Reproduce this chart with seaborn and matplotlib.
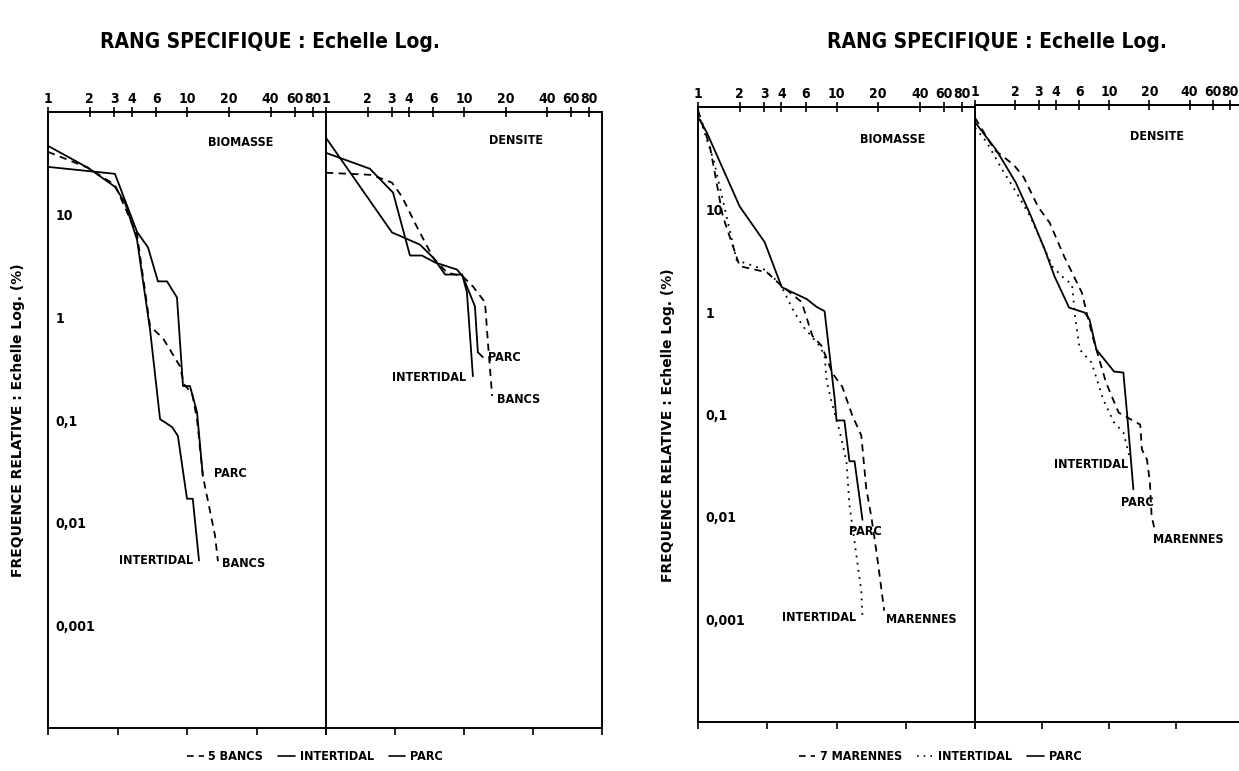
import matplotlib
matplotlib.use("Agg")
import matplotlib.pyplot as plt
from matplotlib.lines import Line2D
from matplotlib.ticker import FixedLocator, FixedFormatter, NullFormatter
import numpy as np
import pandas as pd
import seaborn as sns

# ---------------------------------------------------------------------------
# Values (rank -> relative frequency in %)
# ---------------------------------------------------------------------------

# Left figure, BIOMASSE
B1_PARC_R = [1.0, 3.03, 4.37, 5.24, 6.18, 7.18, 8.47, 9.36, 10.5, 11.8, 13.0]
B1_PARC_F = [29.2, 25.0, 6.8, 4.8, 2.24, 2.24, 1.56, 0.214, 0.214, 0.12, 0.0286]
B1_INTER_R = [1.0, 1.94, 3.03, 3.58, 4.37, 5.42, 6.4, 7.8, 8.6, 10.0, 11.0, 12.2]
B1_INTER_F = [46.8, 28.6, 18.7, 13.1, 5.7, 0.76, 0.102, 0.0855, 0.070, 0.0171, 0.0171, 0.00428]
B1_BANCS_R = [1.0, 1.94, 3.03, 4.37, 5.42, 6.72, 8.9, 9.5, 10.9, 11.8, 13.0, 15.9, 16.7]
B1_BANCS_F = [40.9, 28.6, 19.5, 6.4, 0.82, 0.625, 0.334, 0.224, 0.179, 0.102, 0.0286, 0.0075, 0.0042]

# Left figure, DENSITE
D1_PARC_R = [1.0, 2.08, 3.06, 4.06, 4.96, 6.17, 8.9, 9.8, 12.0, 12.6, 13.7]
D1_PARC_F = [40.0, 28.0, 16.4, 4.0, 4.0, 3.42, 2.92, 2.5, 1.28, 0.457, 0.41]
D1_INTER_R = [1.0, 3.01, 3.55, 4.8, 5.96, 7.3, 9.7, 10.5, 11.6]
D1_INTER_F = [56.0, 6.7, 6.1, 5.1, 3.83, 2.61, 2.61, 1.75, 0.267]
D1_BANCS_R = [1.0, 2.15, 3.01, 3.55, 4.56, 5.96, 7.5, 9.8, 11.6, 14.2, 14.9, 16.0]
D1_BANCS_F = [25.6, 24.4, 20.5, 15.0, 7.6, 3.83, 2.74, 2.5, 2.0, 1.40, 0.57, 0.171]

# Right figure, BIOMASSE
B2_PARC_R = [1.0, 1.16, 2.0, 3.03, 4.02, 4.59, 6.08, 7.2, 8.2, 9.7, 10.0, 11.4, 12.4, 13.5, 15.4]
B2_PARC_F = [80.0, 56.0, 10.7, 4.8, 1.75, 1.60, 1.34, 1.12, 1.02, 0.143, 0.0875, 0.0875, 0.035, 0.035, 0.0094]
B2_INTER_R = [1.0, 1.3, 1.9, 3.0, 3.9, 4.82, 5.7, 7.55, 8.2, 8.5, 9.2, 10.5, 11.8, 12.4, 13.9, 15.1, 15.4]
B2_INTER_F = [88.0, 30.0, 3.2, 2.6, 1.9, 1.07, 0.73, 0.468, 0.374, 0.209, 0.134, 0.070, 0.035, 0.0131, 0.0043, 0.0019, 0.00105]
B2_MAR_R = [1.0, 1.22, 1.51, 2.0, 3.14, 3.89, 5.6, 6.7, 7.8, 9.4, 11.0, 13.0, 15.1, 16.4, 17.9, 19.7, 22.1]
B2_MAR_F = [93.0, 41.0, 8.6, 2.8, 2.44, 1.87, 1.25, 0.585, 0.468, 0.25, 0.187, 0.098, 0.0625, 0.019, 0.0098, 0.004, 0.00122]

# Right figure, DENSITE
D2_PARC_R = [1.0, 1.44, 2.02, 2.59, 3.32, 3.93, 5.04, 6.59, 7.16, 8.05, 9.5, 10.9, 12.8, 13.7, 15.2]
D2_PARC_F = [68.0, 36.6, 17.5, 8.55, 3.91, 2.14, 1.07, 0.957, 0.818, 0.418, 0.32, 0.256, 0.25, 0.0935, 0.0183]
D2_INTER_R = [1.0, 1.22, 1.60, 1.88, 2.19, 2.59, 3.32, 3.80, 4.49, 5.3, 5.58, 6.06, 7.41, 9.05, 10.9, 12.8, 14.4]
D2_INTER_F = [60.0, 43.7, 23.4, 16.7, 12.0, 8.2, 3.91, 2.67, 2.14, 1.79, 0.875, 0.418, 0.313, 0.137, 0.0818, 0.0655, 0.0357]
D2_MAR_R = [1.0, 1.40, 1.95, 2.30, 2.96, 3.61, 4.64, 6.27, 6.81, 7.66, 9.5, 11.8, 17.1, 17.6, 19.2, 20.2, 20.8, 21.9]
D2_MAR_F = [75.0, 36.6, 26.1, 20.0, 10.2, 7.15, 3.34, 1.50, 0.957, 0.523, 0.2, 0.102, 0.078, 0.0447, 0.0357, 0.0214, 0.01, 0.0075]

TOP_TICKS = [1, 2, 3, 4, 6, 10, 20, 40, 60, 80]
Y_TICKS = [10, 1, 0.1, 0.01, 0.001]
Y_LABELS_1 = ["10", "1", "0,1", "0,01", "0,001"]
Y_LABELS_2 = ["10", "1", "0,1", "0,01", "0,001"]

TITLE = "RANG SPECIFIQUE : Echelle Log."
YLABEL = "FREQUENCE RELATIVE : Echelle Log. (%)"

COND = ["DejaVu Sans", "Liberation Sans"]
W, H = 1239, 771


# ---------------------------------------------------------------------------
# helpers
# ---------------------------------------------------------------------------

def draw_curves(ax, curves, dashes):
    frames = []
    for name, (r, f) in curves.items():
        frames.append(pd.DataFrame({"rang": r, "freq": f, "serie": name}))
    df = pd.concat(frames, ignore_index=True)
    sns.lineplot(data=df, x="rang", y="freq", hue="serie", style="serie",
                 palette={k: "black" for k in curves}, dashes=dashes,
                 sort=False, estimator=None, legend=False, ax=ax, linewidth=1.3)


def cond(lab):
    lab.set_family(COND)
    lab.set_weight("bold")
    lab.set_stretch("condensed")


def style_axis(ax, ylabels=None, right_spine=False):
    ax.set_xscale("log")
    ax.set_yscale("log")
    ax.set_xlim(1, 100)
    ax.set_ylim(1e-4, 100)
    ax.set_xlabel("")
    ax.set_ylabel("")
    ax.spines["right"].set_visible(right_spine)
    for s in ax.spines.values():
        s.set_linewidth(1.4)
        s.set_color("black")

    # rank ticks on the top spine, half-decade marks on the bottom spine
    ax.xaxis.set_major_locator(FixedLocator(TOP_TICKS))
    ax.xaxis.set_major_formatter(FixedFormatter([str(t) for t in TOP_TICKS]))
    ax.xaxis.set_minor_locator(FixedLocator([10 ** e for e in (0, 0.5, 1, 1.5, 2)]))
    ax.xaxis.set_minor_formatter(NullFormatter())
    ax.xaxis.remove_overlapping_locs = False
    ax.tick_params(axis="x", which="major", top=True, bottom=False,
                   labeltop=True, labelbottom=False, direction="inout",
                   length=7, width=1.2, pad=1, labelsize=10, colors="black")
    ax.tick_params(axis="x", which="minor", top=False, bottom=True,
                   direction="out", length=5, width=1.2, colors="black")
    for lab in ax.get_xticklabels():
        cond(lab)

    ax.yaxis.set_major_locator(FixedLocator(Y_TICKS))
    ax.yaxis.set_minor_locator(FixedLocator([]))
    if ylabels is None:
        ax.yaxis.set_major_formatter(NullFormatter())
        ax.tick_params(axis="y", which="major", direction="in", length=4,
                       width=1.4, colors="black")
    else:
        ax.yaxis.set_major_formatter(FixedFormatter(ylabels))
        ax.tick_params(axis="y", which="major", direction="inout", length=7,
                       width=1.2, pad=-9, labelsize=10, colors="black")
        for lab in ax.get_yticklabels():
            lab.set_ha("left")
            cond(lab)


def put(ax, x, y, s, ha="left", size=9):
    ax.text(x, y, s, ha=ha, va="center", fontsize=size, fontweight="bold",
            family=COND, fontstretch="condensed", color="black")


# ---------------------------------------------------------------------------
# figure
# ---------------------------------------------------------------------------

sns.set_style("white")
plt.rcParams["font.family"] = COND
plt.rcParams["text.color"] = "black"

fig = plt.figure(figsize=(W / 100, H / 100), dpi=100)

ax_b1 = fig.add_axes([48 / W, 1 - 728 / H, 278 / W, 616 / H])
ax_d1 = fig.add_axes([326 / W, 1 - 728 / H, 276 / W, 616 / H])
ax_b2 = fig.add_axes([698 / W, 1 - 722 / H, 277 / W, 615 / H])
ax_d2 = fig.add_axes([975 / W, 1 - 722 / H, 268 / W, 617 / H])

solid, dash, dot = "", (4, 3), (1, 3)

draw_curves(ax_b1, {"BANCS": (B1_BANCS_R, B1_BANCS_F),
                    "INTERTIDAL": (B1_INTER_R, B1_INTER_F),
                    "PARC": (B1_PARC_R, B1_PARC_F)},
            {"BANCS": dash, "INTERTIDAL": solid, "PARC": solid})
draw_curves(ax_d1, {"BANCS": (D1_BANCS_R, D1_BANCS_F),
                    "INTERTIDAL": (D1_INTER_R, D1_INTER_F),
                    "PARC": (D1_PARC_R, D1_PARC_F)},
            {"BANCS": dash, "INTERTIDAL": solid, "PARC": solid})
draw_curves(ax_b2, {"MARENNES": (B2_MAR_R, B2_MAR_F),
                    "INTERTIDAL": (B2_INTER_R, B2_INTER_F),
                    "PARC": (B2_PARC_R, B2_PARC_F)},
            {"MARENNES": dash, "INTERTIDAL": dot, "PARC": solid})
draw_curves(ax_d2, {"MARENNES": (D2_MAR_R, D2_MAR_F),
                    "INTERTIDAL": (D2_INTER_R, D2_INTER_F),
                    "PARC": (D2_PARC_R, D2_PARC_F)},
            {"MARENNES": dash, "INTERTIDAL": dot, "PARC": solid})

style_axis(ax_b1, Y_LABELS_1)
style_axis(ax_d1, None, right_spine=True)
style_axis(ax_b2, Y_LABELS_2)
style_axis(ax_d2, None, right_spine=False)

# in-plot labels
put(ax_b1, 24.5, 50, "BIOMASSE", ha="center")
put(ax_b1, 15.6, 0.030, "PARC")
put(ax_b1, 17.9, 0.004, "BANCS")
put(ax_b1, 11.0, 0.0043, "INTERTIDAL", ha="right")

put(ax_d1, 23.8, 53, "DENSITE", ha="center")
put(ax_d1, 14.9, 0.41, "PARC")
put(ax_d1, 10.3, 0.26, "INTERTIDAL", ha="right")
put(ax_d1, 17.3, 0.16, "BANCS")

put(ax_b2, 25.3, 47.8, "BIOMASSE", ha="center")
put(ax_b2, 12.4, 0.0073, "PARC")
put(ax_b2, 13.9, 0.00105, "INTERTIDAL", ha="right")
put(ax_b2, 22.9, 0.001, "MARENNES")

put(ax_d2, 23.0, 48.9, "DENSITE", ha="center")
put(ax_d2, 14.0, 0.032, "INTERTIDAL", ha="right")
put(ax_d2, 12.2, 0.0137, "PARC")
put(ax_d2, 21.2, 0.006, "MARENNES")

# titles and y labels
for cx in (270, 997):
    fig.text(cx / W, 1 - 42 / H, TITLE, ha="center", va="center",
             fontsize=15, fontweight="bold", family=COND, fontstretch="condensed")
for cx, cy in ((18, 420), (668, 425)):
    fig.text(cx / W, 1 - cy / H, YLABEL, rotation=90, ha="center", va="center",
             fontsize=10, fontweight="bold", family=["DejaVu Sans"])

# legends
def handles(names, styles):
    return [Line2D([], [], color="black", lw=1.2,
                   linestyle=(0, s) if s else "-") for s in styles], names

h1, n1 = handles(["5 BANCS", "INTERTIDAL", "PARC"], [dash, solid, solid])
h2, n2 = handles(["7 MARENNES", "INTERTIDAL", "PARC"], [dash, dot, solid])
for hh, nn, cx in ((h1, n1, 315), (h2, n2, 940)):
    fig.legend(hh, nn, loc="center", bbox_to_anchor=(cx / W, 1 - 757 / H),
               ncol=3, frameon=False, handlelength=1.3, handletextpad=0.4,
               columnspacing=1.2, labelcolor="black",
               prop={"family": COND, "weight": "bold", "size": 9, "stretch": "condensed"})

fig.savefig("out.png", dpi=100)
